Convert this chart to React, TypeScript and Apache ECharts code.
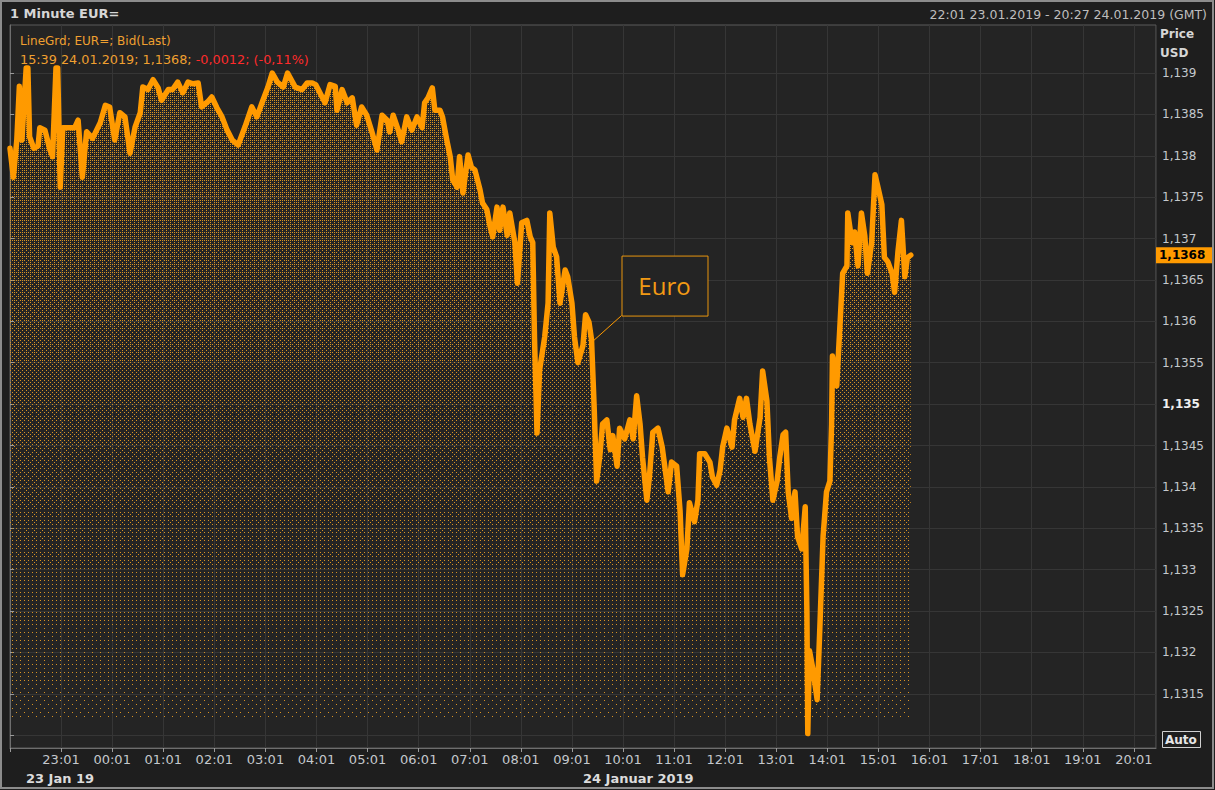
import React, { useEffect, useRef } from "react";
import * as echarts from "echarts";

// ---- data (1-minute EUR= bid, 23/24 Jan 2019, GMT) ----
const times = [
  "22:01","22:05","22:09","22:12","22:15","22:20","22:22","22:24","22:29","22:34","22:36","22:42","22:48","22:51","22:55","22:57","23:00","23:03","23:11","23:17",
  "23:21","23:26","23:31","23:38","23:47","23:53","23:58","00:04","00:10","00:16","00:22","00:28","00:34","00:37","00:43","00:49","00:55","00:59","01:07","01:12",
  "01:18","01:24","01:30","01:36","01:42","01:46","01:53","01:58","02:04","02:10","02:16","02:22","02:29","02:37","02:45","02:51","02:57","03:04","03:09","03:15",
  "03:22","03:27","03:36","03:44","03:50","03:56","04:00","04:11","04:17","04:23","04:25","04:31","04:37","04:43","04:48","04:54","05:00","05:06","05:12","05:18",
  "05:24","05:27","05:31","05:37","05:41","05:47","05:53","05:59","06:05","06:08","06:12","06:17","06:20","06:26","06:29","06:34","06:38","06:41","06:46","06:49",
  "06:53","06:59","07:03","07:07","07:13","07:16","07:21","07:25","07:28","07:33","07:36","07:40","07:45","07:48","07:54","07:57","08:02","08:08","08:12","08:15",
  "08:17","08:20","08:23","08:29","08:33","08:35","08:39","08:43","08:47","08:53","08:56","09:01","09:04","09:08","09:14","09:17","09:21","09:24","09:27","09:30",
  "09:34","09:37","09:42","09:46","09:49","09:54","09:57","10:03","10:09","10:13","10:17","10:21","10:24","10:29","10:32","10:36","10:42","10:47","10:50","10:54",
  "10:58","11:04","11:08","11:11","11:16","11:19","11:25","11:29","11:31","11:37","11:43","11:46","11:51","11:55","11:58","12:03","12:09","12:12","12:18","12:22",
  "12:26","12:30","12:36","12:42","12:45","12:50","12:53","12:57","13:02","13:05","13:09","13:12","13:15","13:19","13:23","13:26","13:31","13:35","13:37","13:38",
  "13:40","13:44","13:49","13:52","13:56","14:00","14:04","14:06","14:07","14:12","14:16","14:19","14:24","14:25","14:30","14:33","14:37","14:41","14:45","14:48",
  "14:53","14:57","15:00","15:05","15:08","15:12","15:17","15:20","15:24","15:28","15:32","15:35","15:39",
];

const prices = [
  1.13809,1.13774,1.13819,1.13884,1.13819,1.13906,1.13906,1.13823,1.13809,1.13812,1.13834,1.13831,1.13807,1.13799,1.13906,1.13906,1.13762,1.13834,1.13834,1.13834,
  1.13843,1.13774,1.13829,1.13821,1.1384,1.13861,1.13859,1.13819,1.13852,1.13847,1.13803,1.13835,1.13852,1.13883,1.1388,1.13892,1.13882,1.13867,1.1388,1.1388,
  1.13889,1.13876,1.13889,1.13887,1.13888,1.13859,1.13865,1.13871,1.13858,1.13847,1.13831,1.13819,1.13813,1.13835,1.13859,1.13847,1.13864,1.13883,1.139,1.13889,
  1.13883,1.139,1.13883,1.1388,1.13888,1.13888,1.13886,1.13864,1.13886,1.13884,1.13855,1.1388,1.13864,1.1387,1.13837,1.13859,1.13849,1.13829,1.13807,1.13849,
  1.13843,1.13829,1.13849,1.13831,1.13817,1.13847,1.13831,1.13847,1.13834,1.13864,1.1387,1.13882,1.13855,1.13855,1.13847,1.13819,1.13799,1.13771,1.13762,1.13799,
  1.13755,1.13801,1.13786,1.13783,1.13759,1.13743,1.13735,1.13714,1.13702,1.13738,1.1371,1.13738,1.13704,1.13731,1.13695,1.13646,1.13719,1.13722,1.13702,1.13695,
  1.13581,1.13465,1.13541,1.13581,1.13622,1.13731,1.1369,1.13678,1.13622,1.13662,1.13654,1.13622,1.13581,1.1355,1.13571,1.13608,1.13599,1.13578,1.13499,1.13407,
  1.1344,1.13476,1.13481,1.13445,1.13462,1.13425,1.13471,1.13458,1.13481,1.13458,1.1351,1.13476,1.13435,1.13384,1.13412,1.13466,1.13471,1.13448,1.13425,1.13394,
  1.1343,1.13425,1.13371,1.13294,1.13325,1.13381,1.13358,1.13384,1.1344,1.1344,1.1343,1.13412,1.13402,1.1342,1.13448,1.13471,1.13448,1.13481,1.13507,1.13484,
  1.13507,1.13476,1.13443,1.13484,1.1354,1.13504,1.13435,1.13384,1.13407,1.13435,1.13463,1.13466,1.13394,1.13362,1.13394,1.1334,1.13325,1.13376,1.13248,1.13102,
  1.13202,1.1318,1.13143,1.13225,1.1334,1.13394,1.13407,1.13476,1.13558,1.13522,1.13599,1.13658,1.13667,1.13731,1.13695,1.13708,1.13667,1.13731,1.13703,1.13658,
  1.13695,1.13777,1.13764,1.13741,1.13677,1.13672,1.13658,1.13635,1.13685,1.13722,1.13654,1.13677,1.1368,
];

const yTickValues = [1.131, 1.1315, 1.132, 1.1325, 1.133, 1.1335, 1.134, 1.1345, 1.135, 1.1355, 1.136, 1.1365, 1.137, 1.1375, 1.138, 1.1385, 1.139];
const boldTick = 1.135;
const annotationTime = "09:24";
const annotationValue = 1.13578;
const annotationText = "Euro";

// axis window: 22:01 23.01 .. 20:27 24.01 (GMT)
const START_CLOCK = 22 * 60 + 1;
const END_MINUTES = 1346;
const Y_MIN = 1.130846;
const Y_MAX = 1.13958;
const AREA_FLOOR = 1.13121;

const FONT = "'DejaVu Sans', Verdana, sans-serif";
const ORANGE = "#ff9a00";
const TXT_ORANGE = "#f0a030";
const AX = "#c4c8cc";

const pad = (n: number) => (n < 10 ? "0" + n : "" + n);
const toMinutes = (t: string) => {
  const [h, m] = t.split(":").map(Number);
  let v = h * 60 + m - START_CLOCK;
  if (v < 0) v += 1440;
  return v;
};
const fmtClock = (mins: number) => {
  const total = (START_CLOCK + mins) % 1440;
  return pad(Math.floor(total / 60)) + ":" + pad(total % 60);
};
const fmtPrice = (v: number) => v.toFixed(4).replace(/0+$/, "").replace(".", ",");

// dithered dot texture whose density fades toward the bottom of the page
function makeDotTexture(): HTMLCanvasElement {
  let m: number[][] = [[0, 2], [3, 1]];
  while (m.length < 8) {
    const s = m.length;
    const nm: number[][] = [];
    for (let r = 0; r < s * 2; r++) {
      nm.push([]);
      for (let c = 0; c < s * 2; c++) {
        const base = 4 * m[r % s][c % s];
        const add = r < s ? (c < s ? 0 : 2) : c < s ? 3 : 1;
        nm[r].push(base + add);
      }
    }
    m = nm;
  }
  const W = 8;
  const H = 800;
  const c = document.createElement("canvas");
  c.width = W;
  c.height = H;
  const ctx = c.getContext("2d");
  if (!ctx) return c;
  const density = (y: number) => {
    if (y <= 140) return 0.22;
    if (y <= 450) return 0.22 - ((y - 140) / 310) * 0.12;
    return Math.max(0.03, 0.1 - ((y - 450) / 270) * 0.07);
  };
  ctx.fillStyle = "rgb(214,146,36)";
  for (let y = 0; y < H; y++) {
    const d = density(y);
    for (let x = 0; x < W; x++) {
      if ((m[y % 8][x % 8] + 0.5) / 64 < d) ctx.fillRect(x, y, 1, 1);
    }
  }
  return c;
}

export default function App() {
  const ref = useRef<HTMLDivElement>(null);

  useEffect(() => {
    const el = ref.current;
    if (!el) return;
    const chart = echarts.init(el, null, { renderer: "svg", width: 1215, height: 790 });

    const n = Math.min(times.length, prices.length);
    const data: [number, number][] = [];
    for (let i = 0; i < n; i++) data.push([toMinutes(times[i]), prices[i]]);

    const dots = makeDotTexture();

    const option: any = {
      animation: false,
      backgroundColor: "#1e1e1e",
      grid: {
        left: 10,
        right: 59,
        top: 25,
        bottom: 42,
        show: true,
        backgroundColor: "#242424",
        borderColor: "#5a5a5a",
        borderWidth: 1,
        containLabel: false,
        outerBoundsMode: "none",
      },
      xAxis: {
        type: "value",
        min: 0,
        max: END_MINUTES,
        interval: 60,
        axisLine: { show: true, lineStyle: { color: "#6e6e6e" } },
        axisTick: { show: true, length: 4, lineStyle: { color: "#9a9a9a" } },
        axisLabel: {
          color: AX,
          fontFamily: FONT,
          fontSize: 13,
          margin: 5,
          showMaxLabel: false,
          hideOverlap: false,
          formatter: (v: number) => (v > 0 && v % 60 === 0 ? fmtClock(v) : ""),
        },
        splitLine: { show: true, lineStyle: { color: "#363636", width: 1 } },
      },
      yAxis: {
        type: "value",
        position: "right",
        min: Y_MIN,
        max: Y_MAX,
        axisLine: { show: true, lineStyle: { color: "#6e6e6e" } },
        axisTick: { show: true, length: 4, customValues: yTickValues, lineStyle: { color: "#9a9a9a" } },
        axisLabel: {
          customValues: yTickValues.filter((v) => v > 1.1312),
          color: AX,
          fontFamily: FONT,
          fontSize: 12,
          margin: 6,
          hideOverlap: false,
          formatter: (v: number) =>
            Math.abs(v - boldTick) < 1e-7 ? "{b|" + fmtPrice(v) + "}" : fmtPrice(v),
          rich: { b: { color: "#f0f0f0", fontWeight: "bold", fontFamily: FONT, fontSize: 12 } },
        },
        splitLine: { show: true, lineStyle: { color: "#363636", width: 1 } },
      },
      series: [
        {
          type: "line",
          data,
          showSymbol: false,
          silent: true,
          z: 1,
          lineStyle: { width: 0, opacity: 0 },
          areaStyle: {
            color: { image: dots, repeat: "repeat", imageWidth: 8, imageHeight: 800 },
            opacity: 1,
            origin: AREA_FLOOR,
          },
        },
        {
          type: "line",
          data,
          showSymbol: false,
          silent: true,
          z: 3,
          lineStyle: { width: 5.5, color: ORANGE, join: "round", cap: "round" },
        },
      ],
    };

    chart.setOption(option);

    const a = chart.convertToPixel({ gridIndex: 0 }, [toMinutes(annotationTime), annotationValue]) as number[];
    const last = chart.convertToPixel({ gridIndex: 0 }, [data[n - 1][0], data[n - 1][1]]) as number[];
    const boxX = a[0] + 30;
    const boxY = a[1] - 84;
    const boxW = 86;
    const boxH = 60;

    const txt = (x: number, y: number, text: string, style: any, extra: any = {}) => ({
      type: "text",
      x,
      y,
      z: 100,
      silent: true,
      style: { text, fontFamily: FONT, verticalAlign: "middle", ...style },
      ...extra,
    });

    chart.setOption({
      graphic: [
        { type: "rect", z: 100, silent: true, shape: { x: 1, y: 1, width: 1212, height: 787 }, style: { fill: "none", stroke: "#8c8c8c", lineWidth: 2 } },
        txt(10, 13, "1 Minute EUR=", { fill: "#d6d6d6", fontSize: 13, fontWeight: "bold" }),
        txt(1207, 14, "22:01 23.01.2019 - 20:27 24.01.2019 (GMT)", { fill: "#bdbdbd", fontSize: 12.5, align: "right" }),
        txt(1160, 34, "Price", { fill: "#d6d6d6", fontSize: 12, fontWeight: "bold" }),
        txt(1160, 53, "USD", { fill: "#d6d6d6", fontSize: 12, fontWeight: "bold" }),
        txt(20, 41, "LineGrd; EUR=; Bid(Last)", { fill: TXT_ORANGE, fontSize: 12 }),
        txt(20, 59, "{o|15:39 24.01.2019; 1,1368; }{r|-0,0012; (-0,11%)}", {
          fontSize: 12.8,
          rich: {
            o: { fill: TXT_ORANGE, fontFamily: FONT, fontSize: 12.8 },
            r: { fill: "#ff2b2b", fontFamily: FONT, fontSize: 12.8 },
          },
        }),
        // current price tag
        { type: "rect", z: 100, silent: true, shape: { x: 1156, y: last[1] - 8, width: 56, height: 16 }, style: { fill: ORANGE } },
        txt(1159, last[1], fmtPrice(prices[n - 1]), { fill: "#000", fontSize: 12, fontWeight: "bold" }),
        // Auto box
        { type: "rect", z: 100, silent: true, shape: { x: 1162.5, y: 731.5, width: 38, height: 16 }, style: { fill: "#1e1e1e", stroke: "#d0d0d0", lineWidth: 1 } },
        txt(1165, 740, "Auto", { fill: "#e6e6e6", fontSize: 12, fontWeight: "bold" }),
        // date labels
        txt(26, 778, "23 Jan 19", { fill: "#dcdcdc", fontSize: 13, fontWeight: "bold" }),
        txt(583, 778, "24 Januar 2019", { fill: "#dcdcdc", fontSize: 13, fontWeight: "bold" }),
        // annotation
        { type: "line", z: 100, silent: true, shape: { x1: a[0] + 1, y1: a[1] + 2, x2: boxX, y2: boxY + boxH }, style: { stroke: ORANGE, lineWidth: 1 } },
        { type: "rect", z: 100, silent: true, shape: { x: boxX + 0.5, y: boxY + 0.5, width: boxW, height: boxH }, style: { fill: "#242424", stroke: "#e8950f", lineWidth: 1 } },
        txt(boxX + boxW / 2, boxY + boxH / 2, annotationText, { fill: "#f29a14", fontSize: 24, align: "center", fontFamily: "'Open Sans', 'DejaVu Sans', sans-serif" }),
      ],
    });

    return () => {
      chart.dispose();
    };
  }, []);

  return <div ref={ref} style={{ position: "fixed", left: 0, top: 0, width: 1215, height: 790 }} />;
}
